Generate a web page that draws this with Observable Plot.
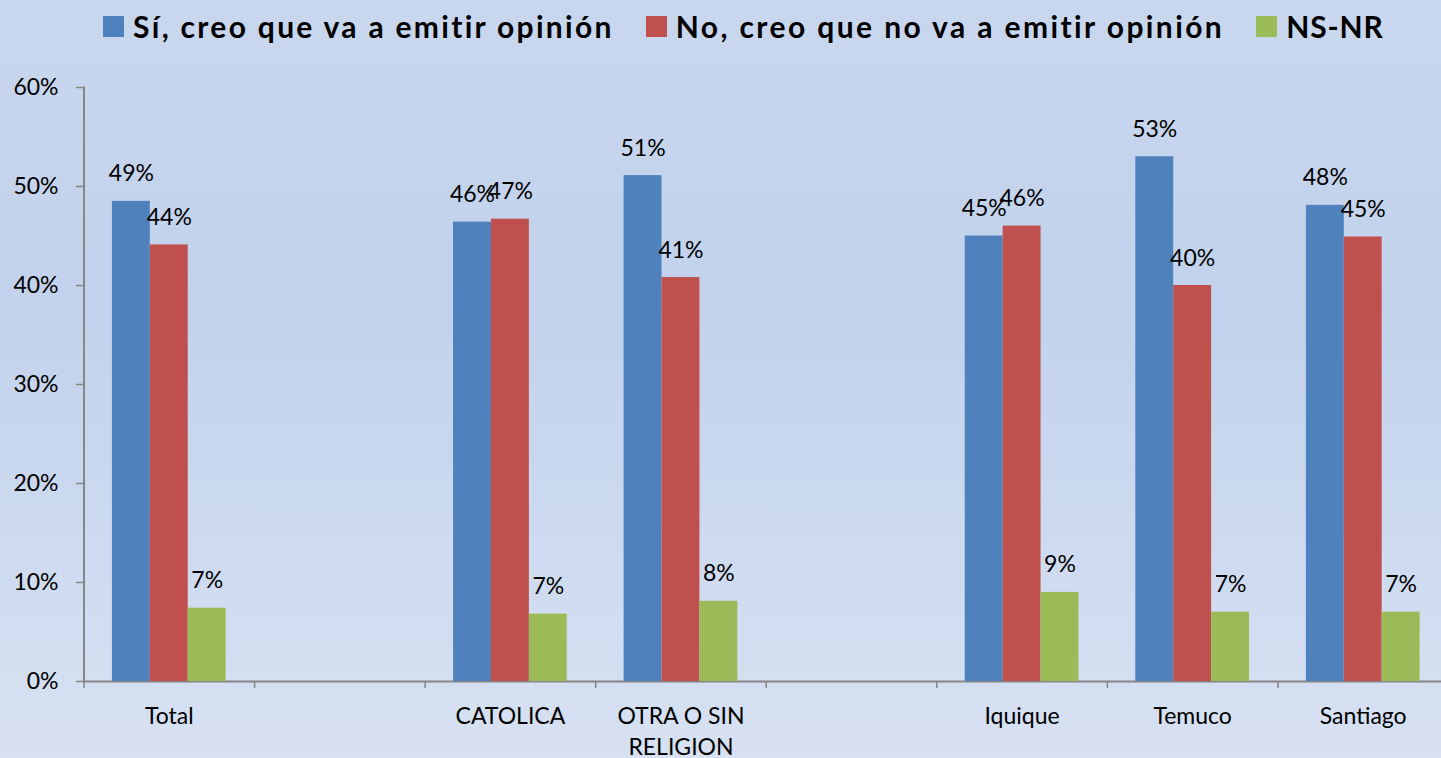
<!DOCTYPE html>
<html><head><meta charset="utf-8">
<script src="https://cdn.jsdelivr.net/npm/d3@7"></script>
<script src="https://cdn.jsdelivr.net/npm/@observablehq/plot@0.6"></script>
<style>
html,body{margin:0;padding:0;width:1441px;height:758px;overflow:hidden;}
body{background:linear-gradient(to bottom,#c9d7ee 0%,#c2d2ec 40%,#d7e1f2 100%);font-family:Lato,"Open Sans",sans-serif;}
#legend{height:58px;display:flex;align-items:flex-start;padding-left:103px;padding-top:16px;box-sizing:border-box;font-weight:bold;font-size:30px;color:#000;}
.item{display:flex;align-items:center;margin-right:32px;height:21px;}
.sw{width:21px;height:21px;margin-right:9px;flex:none;}
.item span{white-space:nowrap;line-height:21px;}
#chart svg{display:block;max-width:none !important;}
</style></head><body>
<div id="legend"></div>
<div id="chart"></div>
<script>
const categories = ["Total", "gap1", "CATOLICA", "OTRA O SIN RELIGION", "gap2", "Iquique", "Temuco", "Santiago"];
const tickLabels = ["Total", "", "CATOLICA", "OTRA O SIN\nRELIGION", "", "Iquique", "Temuco", "Santiago"];
const groups = ["Total", "CATOLICA", "OTRA O SIN RELIGION", "Iquique", "Temuco", "Santiago"];
const series = ["Sí, creo que va a emitir opinión", "No, creo que no va a emitir opinión", "NS-NR"];
const colors = ["#4f81bd", "#c0504d", "#9bbb59"];
const si = [48.5, 46.4, 51.1, 45.0, 53.0, 48.1];
const no = [44.1, 46.7, 40.8, 46.0, 40.0, 44.9];
const nsnr = [7.4, 6.8, 8.1, 9.0, 7.0, 7.0];
const yTicks = [0, 10, 20, 30, 40, 50, 60];

const values = [si, no, nsnr];
const data = [];
groups.forEach((g, i) => series.forEach((s, j) => data.push({cat: g, series: s, value: values[j][i]})));

const legendSpacing = ["2.3px", "2.4px", "0.9px"];
const legend = document.getElementById("legend");
series.forEach((s, j) => {
  const it = document.createElement("div"); it.className = "item";
  const sw = document.createElement("div"); sw.className = "sw"; sw.style.background = colors[j];
  const tx = document.createElement("span"); tx.textContent = s; tx.style.letterSpacing = legendSpacing[j];
  it.appendChild(sw); it.appendChild(tx); legend.appendChild(it);
});

const W = 1448;
const mL = 83.5;
const halfStep = (W - mL) / categories.length / 2;

const plot = Plot.plot({
  width: W, height: 700,
  marginLeft: mL, marginRight: 0, marginTop: 29, marginBottom: 77,
  style: {background: "transparent", fontFamily: "Lato, 'Open Sans', sans-serif", fontSize: "23px", color: "#000"},
  fx: {domain: categories, padding: 0, round: false, label: null, axis: null},
  x: {domain: series, paddingInner: 0, paddingOuter: 0.75, round: false, axis: null},
  y: {domain: [0, 60], label: null, axis: null},
  color: {domain: series, range: colors},
  marks: [
    Plot.ruleY(categories, {fx: d => d, y: () => 0, stroke: "#868686", strokeWidth: 2}),
    Plot.frame({anchor: "left", facetAnchor: "left", stroke: "#868686", strokeWidth: 2}),
    Plot.barY(data, {fx: "cat", x: "series", y: "value", fill: "series"}),
    Plot.text(data, {fx: "cat", x: "series", y: "value", text: d => Math.round(d.value) + "%", dy: -20, lineAnchor: "bottom", fill: "#000", fontSize: 23}),
    Plot.axisY({ticks: yTicks, tickFormat: d => d + "%", tickSize: 7.5, tickPadding: 18, stroke: "#868686", strokeWidth: 1.5, fill: "#000", fontSize: 23, label: null}),
    Plot.axisFx({anchor: "bottom", tickSize: 0, tickPadding: 20, tickFormat: d => tickLabels[categories.indexOf(d)], lineHeight: 1.36, fontSize: 23, fill: "#000", label: null}),
    Plot.axisFx({anchor: "bottom", tickSize: 7, tickFormat: () => "", dx: -halfStep, stroke: "#868686", strokeWidth: 1.5, label: null})
  ]
});
document.getElementById("chart").appendChild(plot);
</script>
</body></html>
